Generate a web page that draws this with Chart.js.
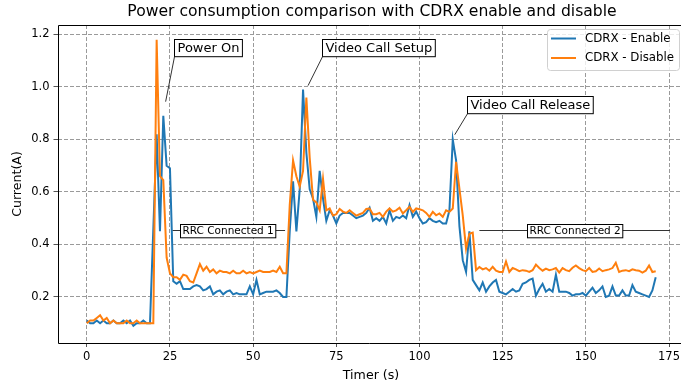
<!DOCTYPE html>
<html>
<head>
<meta charset="utf-8">
<script src="https://cdn.jsdelivr.net/npm/chart.js@4.4.1/dist/chart.umd.min.js"></script>
<style>
    html, body { margin: 0; padding: 0; background: #fff; overflow: hidden; }
    #wrap { width: 683px; height: 389px; position: relative; }
</style>
</head>
<body>
<div id="wrap"><canvas id="power-chart"></canvas></div>
<script>
const cdrxEnable = [
    0.11, 0.10, 0.10, 0.11, 0.10, 0.11, 0.10, 0.10, 0.11, 0.10,
    0.10, 0.11, 0.10, 0.11, 0.09, 0.10, 0.10, 0.11, 0.10, 0.10,
    0.46, 0.82, 0.45, 0.89, 0.70, 0.69, 0.26, 0.25, 0.26, 0.23,
    0.23, 0.23, 0.24, 0.245, 0.24, 0.225, 0.23, 0.24, 0.21, 0.22,
    0.225, 0.21, 0.22, 0.225, 0.21, 0.215, 0.21, 0.21, 0.21, 0.24,
    0.21, 0.265, 0.21, 0.215, 0.22, 0.22, 0.22, 0.225, 0.215, 0.20,
    0.20, 0.45, 0.64, 0.45, 0.61, 0.99, 0.75, 0.61, 0.575, 0.505,
    0.68, 0.575, 0.49, 0.53, 0.51, 0.48, 0.51, 0.52, 0.52, 0.52,
    0.51, 0.50, 0.505, 0.51, 0.52, 0.54, 0.49, 0.50, 0.49, 0.505,
    0.48, 0.53, 0.49, 0.505, 0.50, 0.51, 0.50, 0.55, 0.505, 0.525,
    0.50, 0.48, 0.485, 0.50, 0.49, 0.485, 0.49, 0.48, 0.48, 0.53,
    0.80, 0.72, 0.47, 0.34, 0.295, 0.45, 0.265, 0.245, 0.225, 0.255,
    0.22, 0.24, 0.255, 0.265, 0.22, 0.215, 0.21, 0.22, 0.23, 0.22,
    0.225, 0.25, 0.255, 0.265, 0.27, 0.205, 0.23, 0.25, 0.22, 0.23,
    0.22, 0.285, 0.22, 0.22, 0.22, 0.215, 0.205, 0.21, 0.21, 0.215,
    0.205, 0.22, 0.235, 0.215, 0.225, 0.24, 0.20, 0.205, 0.24, 0.205,
    0.205, 0.225, 0.205, 0.205, 0.245, 0.22, 0.215, 0.21, 0.205, 0.20,
    0.225, 0.275
];
const cdrxDisable = [
    0.10, 0.11, 0.11, 0.12, 0.13, 0.11, 0.12, 0.10, 0.11, 0.10,
    0.10, 0.10, 0.11, 0.10, 0.10, 0.11, 0.10, 0.10, 0.10, 0.10,
    0.10, 1.18, 0.66, 0.645, 0.35, 0.29, 0.275, 0.275, 0.265, 0.285,
    0.28, 0.26, 0.255, 0.29, 0.325, 0.30, 0.315, 0.295, 0.305, 0.29,
    0.30, 0.295, 0.295, 0.29, 0.30, 0.29, 0.29, 0.30, 0.29, 0.295,
    0.29, 0.295, 0.30, 0.295, 0.295, 0.295, 0.30, 0.295, 0.315, 0.29,
    0.29, 0.55, 0.72, 0.66, 0.62, 0.68, 0.96, 0.73, 0.57, 0.56,
    0.53, 0.65, 0.53, 0.537, 0.51, 0.515, 0.535, 0.525, 0.52, 0.53,
    0.52, 0.51, 0.515, 0.52, 0.535, 0.537, 0.515, 0.515, 0.52, 0.505,
    0.525, 0.537, 0.525, 0.53, 0.54, 0.518, 0.53, 0.543, 0.524, 0.537,
    0.534, 0.53, 0.52, 0.505, 0.524, 0.511, 0.518, 0.505, 0.53, 0.524,
    0.537, 0.715, 0.613, 0.511, 0.384, 0.441, 0.445, 0.302, 0.314, 0.305,
    0.31, 0.30, 0.315, 0.30, 0.295, 0.295, 0.335, 0.295, 0.31, 0.305,
    0.298, 0.302, 0.30, 0.295, 0.302, 0.323, 0.31, 0.30, 0.308, 0.302,
    0.305, 0.31, 0.293, 0.31, 0.302, 0.298, 0.311, 0.32, 0.31, 0.302,
    0.298, 0.31, 0.295, 0.298, 0.308, 0.298, 0.302, 0.305, 0.31, 0.33,
    0.295, 0.30, 0.302, 0.298, 0.305, 0.302, 0.30, 0.293, 0.30, 0.32,
    0.295, 0.298
];
const timer = cdrxEnable.map((_, i) => i);
const seriesNames = ['CDRX - Enable', 'CDRX - Disable'];
const xTicks = [0, 25, 50, 75, 100, 125, 150, 175];
const yTicks = [0.2, 0.4, 0.6, 0.8, 1.0, 1.2];

const BLUE = '#1f77b4';
const ORANGE = '#ff7f0e';
const FONT = '"DejaVu Sans", sans-serif';

// callouts: target point and text box left / middle, in data units
const callouts = [
    { text: 'Power On', size: 13, box: [26.2, 1.148], target: [23.7, 0.944] },
    { text: 'Video Call Setup', size: 13, box: [70.6, 1.15], target: [66.5, 1.005] },
    { text: 'Video Call Release', size: 13, box: [114.2, 0.932], target: [110.6, 0.818] },
];
const phaseLines = [
    { text: 'RRC Connected 1', size: 10.5, box: 28.0, y: 0.455, from: 25.8, to: 59.6 },
    { text: 'RRC Connected 2', size: 10.5, box: 132.4, y: 0.455, from: 118, to: 175.3 },
];

const overlay = {
    id: 'overlay',
    afterDraw(chart) {
        const { ctx, chartArea: a } = chart;
        const x = chart.scales.x, y = chart.scales.y;
        ctx.save();

        // axes frame (right spine is cropped off in the original)
        ctx.strokeStyle = '#000';
        ctx.lineWidth = 1;
        ctx.beginPath();
        ctx.moveTo(a.right, Math.round(a.top) + 0.5);
        ctx.lineTo(Math.round(a.left) + 0.5, Math.round(a.top) + 0.5);
        ctx.lineTo(Math.round(a.left) + 0.5, Math.round(a.bottom) + 0.5);
        ctx.lineTo(a.right, Math.round(a.bottom) + 0.5);
        ctx.stroke();

        const box = (text, size, left, mid, pad) => {
            ctx.font = size + 'px ' + FONT;
            const w = ctx.measureText(text).width + pad * 2;
            const h = size + pad * 1.4;
            const top = Math.round(mid - h / 2) + 0.5;
            const l = Math.round(left) + 0.5;
            ctx.fillStyle = '#fff';
            ctx.fillRect(l, top, w, h);
            ctx.strokeStyle = '#000';
            ctx.lineWidth = 1;
            ctx.strokeRect(l, top, w, h);
            ctx.fillStyle = '#000';
            ctx.textAlign = 'left';
            ctx.textBaseline = 'middle';
            ctx.fillText(text, l + pad, mid + 1);
            return { l, top, w, h };
        };

        phaseLines.forEach(p => {
            const py = Math.round(y.getPixelForValue(p.y)) + 0.5;
            ctx.strokeStyle = '#333';
            ctx.lineWidth = 1;
            ctx.beginPath();
            ctx.moveTo(x.getPixelForValue(p.from), py);
            ctx.lineTo(x.getPixelForValue(p.to), py);
            ctx.stroke();
            box(p.text, p.size, x.getPixelForValue(p.box), py, 2);
        });

        callouts.forEach(c => {
            const b = box(c.text, c.size, x.getPixelForValue(c.box[0]), y.getPixelForValue(c.box[1]), 3);
            ctx.strokeStyle = '#333';
            ctx.lineWidth = 1;
            ctx.beginPath();
            ctx.moveTo(b.l, b.top + b.h);
            ctx.lineTo(x.getPixelForValue(c.target[0]), y.getPixelForValue(c.target[1]));
            ctx.stroke();
        });

        // legend
        const lx = 547, ly = 29, lw = 132, lh = 41;
        ctx.fillStyle = 'rgba(255,255,255,0.8)';
        ctx.strokeStyle = '#d0d0d0';
        ctx.lineWidth = 1;
        ctx.beginPath();
        ctx.roundRect(lx + 0.5, ly + 0.5, lw, lh, 3);
        ctx.fill();
        ctx.stroke();
        ctx.font = '11.8px ' + FONT;
        ctx.textBaseline = 'middle';
        ctx.textAlign = 'left';
        [BLUE, ORANGE].forEach((col, i) => {
            const yy = ly + 9.5 + i * 19.5;
            ctx.strokeStyle = col;
            ctx.lineWidth = 2;
            ctx.beginPath();
            ctx.moveTo(551, yy);
            ctx.lineTo(576, yy);
            ctx.stroke();
            ctx.fillStyle = '#000';
            ctx.fillText(seriesNames[i], 585, yy);
        });

        // title and axis labels
        ctx.fillStyle = '#000';
        ctx.textAlign = 'center';
        ctx.font = '15.6px ' + FONT;
        ctx.fillText('Power consumption comparison with CDRX enable and disable', 372, 12);
        ctx.font = '12.6px ' + FONT;
        ctx.fillText('Timer (s)', 371, 376);
        ctx.translate(18, (a.top + a.bottom) / 2);
        ctx.rotate(-Math.PI / 2);
        ctx.fillText('Current(A)', 0, 0);
        ctx.restore();
    }
};

const gridStyle = {
    color: '#9a9a9a',
    lineWidth: 1,
    tickLength: 4,
    tickColor: '#555',
};

const powerChart = new Chart(document.getElementById('power-chart'), {
    type: 'line',
    data: {
        datasets: [
            {
                label: seriesNames[0],
                data: timer.map((t, i) => ({ x: t, y: cdrxEnable[i] })),
                borderColor: BLUE,
                order: 2,
            },
            {
                label: seriesNames[1],
                data: timer.map((t, i) => ({ x: t, y: cdrxDisable[i] })),
                borderColor: ORANGE,
                order: 1,
            },
        ]
    },
    options: {
        responsive: true,
        maintainAspectRatio: false,
        animation: false,
        devicePixelRatio: 1,
        layout: { padding: { top: 25, right: 0, left: 0, bottom: 0 } },
        elements: {
            line: { borderWidth: 2, tension: 0, fill: false },
            point: { radius: 0 },
        },
        plugins: {
            legend: { display: false },
            title: { display: false },
            tooltip: { enabled: false },
        },
        scales: {
            x: {
                type: 'linear',
                min: -8.8,
                max: 178.6,
                afterFit: s => { s.height = 46; },
                afterBuildTicks: s => { s.ticks = xTicks.map(v => ({ value: v })); },
                border: { display: false, dash: [4, 2] },
                grid: gridStyle,
                ticks: { color: '#000', padding: 3, font: { family: FONT, size: 11.5 }, maxRotation: 0 },
            },
            y: {
                min: 0.0245,
                max: 1.236,
                afterFit: s => { s.width = 57.5; },
                afterBuildTicks: s => { s.ticks = yTicks.map(v => ({ value: v })); },
                border: { display: false, dash: [4, 2] },
                grid: gridStyle,
                ticks: {
                    color: '#000', padding: 4, font: { family: FONT, size: 11.5 },
                    callback: v => v.toFixed(1),
                },
            },
        },
    },
    plugins: [overlay],
});
</script>
</body>
</html>
